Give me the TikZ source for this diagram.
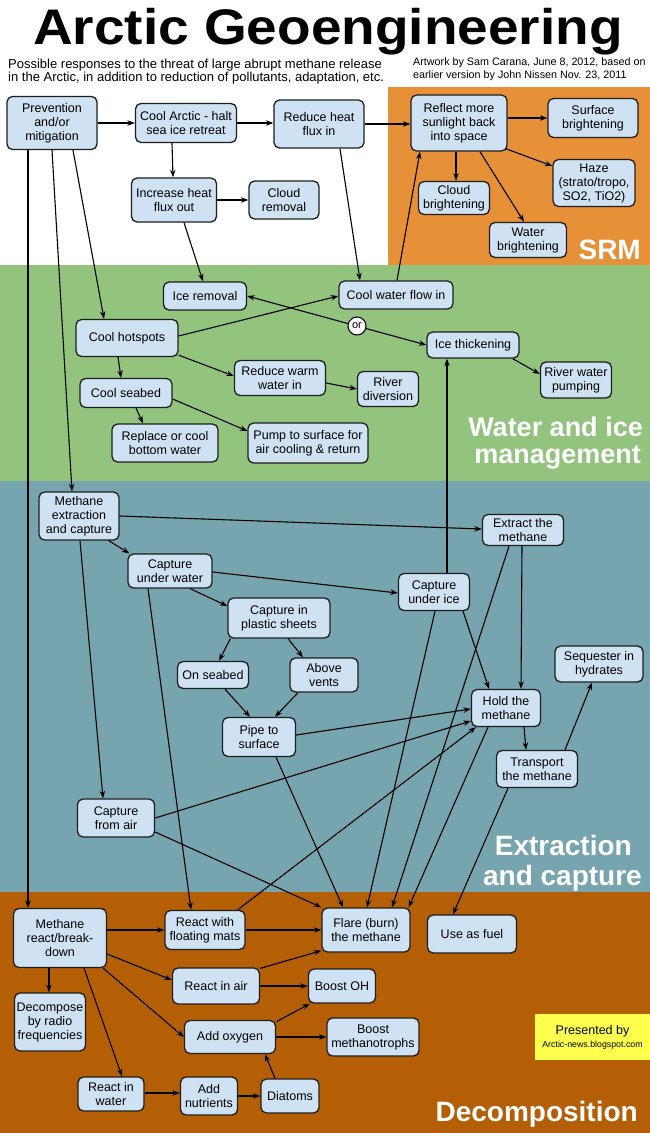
\documentclass[tikz,border=0pt]{standalone}
\usepackage{fontspec}
\setmainfont{Liberation Sans}
\usetikzlibrary{arrows.meta,calc}
\definecolor{srmc}{HTML}{E69138}
\definecolor{wimc}{HTML}{93C47D}
\definecolor{extc}{HTML}{76A5AF}
\definecolor{decc}{HTML}{B45F06}
\definecolor{boxc}{HTML}{CFE2F3}
\definecolor{edgec}{HTML}{1E1E1E}
\definecolor{presc}{HTML}{FFFF4D}
\newcommand{\mybox}[5]{\node[box,minimum width=#3pt,minimum height=#4pt] (#1) at #2 {#5};}
\begin{document}
\begin{tikzpicture}[x=1pt,y=-1pt,
  box/.style={draw=edgec, fill=boxc, rounded corners=5.5pt, line width=1.3pt, align=center, inner sep=0pt, font=\fontsize{12.5}{14}\selectfont, text=black},
  arr/.style={draw=black, line width=1.1pt, -{Stealth[length=7.5pt,width=5.5pt]}},
  sect/.style={text=white, font=\bfseries\fontsize{28}{30}\selectfont, inner sep=0pt}]
\useasboundingbox (0,0) rectangle (650,1133);
% backgrounds
\fill[white] (0,0) rectangle (650,1133);
\fill[srmc] (388,87) rectangle (650,265);
\fill[wimc] (0,265) rectangle (650,481);
\fill[extc] (0,481) rectangle (650,892);
\fill[decc] (0,892) rectangle (650,1133);
% title and credits
\node[anchor=base, inner sep=0pt, font=\bfseries\fontsize{50}{54}\selectfont] (title) at (328,44) {\scalebox{1.1}[1]{Arctic Geoengineering}};
\node[anchor=base west, inner sep=0pt, font=\fontsize{13}{14}\selectfont] (sub1) at (8,68) {Possible responses to the threat of large abrupt methane release};
\node[anchor=base west, inner sep=0pt, font=\fontsize{13}{14}\selectfont] (sub2) at (8,81) {in the Arctic, in addition to reduction of pollutants, adaptation, etc.};
\node[anchor=base west, inner sep=0pt, font=\fontsize{10.75}{12}\selectfont] (cred1) at (413,65) {Artwork by Sam Carana, June 8, 2012, based on};
\node[anchor=base west, inner sep=0pt, font=\fontsize{10.75}{12}\selectfont] (cred2) at (413,78) {earlier version by John Nissen Nov. 23, 2011};
% section labels
\node[sect, anchor=base east] (lsrm) at (641,259) {SRM};
\node[sect, anchor=base east, font=\bfseries\fontsize{27}{30}\selectfont] (lwim1) at (643,436) {Water and ice};
\node[sect, anchor=base east, font=\bfseries\fontsize{27}{30}\selectfont] (lwim2) at (641,463) {management};
\node[sect, anchor=base east] (lext1) at (632,855) {Extraction};
\node[sect, anchor=base east] (lext2) at (642,885) {and capture};
\node[sect, anchor=base east] (ldec) at (638,1121) {Decomposition};
% nodes: top
\mybox{prev}{(52,123)}{90}{53}{Prevention\\and/or\\mitigation}
\mybox{coolarc}{(186,123)}{101}{39}{Cool Arctic - halt\\sea ice retreat}
\mybox{redin}{(319,124)}{90}{48}{Reduce heat\\flux in}
\mybox{incout}{(174,200)}{85}{44}{Increase heat\\flux out}
\mybox{cloudrem}{(284,200)}{70}{38}{Cloud\\removal}
\mybox{reflect}{(459,123)}{96}{56}{Reflect more\\sunlight back\\into space}
\mybox{surf}{(593,118)}{90}{39}{Surface\\brightening}
\mybox{haze}{(594,183)}{82}{47}{Haze\\(strato/tropo,\\SO2, TiO2)}
\mybox{cloudbr}{(454,198)}{71}{33}{Cloud\\brightening}
\mybox{waterbr}{(528,240)}{77}{35}{Water\\brightening}
% water and ice
\mybox{icerem}{(205,296)}{83}{28}{Ice removal}
\mybox{coolflow}{(396,295)}{114}{28}{Cool water flow in}
\mybox{hot}{(127,338)}{102}{37}{Cool hotspots}
\mybox{icethick}{(473,345)}{92}{26}{Ice thickening}
\mybox{warm}{(280,378)}{91}{35}{Reduce warm\\water in}
\mybox{river}{(388,389)}{61}{35}{River\\diversion}
\mybox{pumping}{(576,380)}{71}{36}{River water\\pumping}
\mybox{seabed}{(126,393)}{92}{29}{Cool seabed}
\mybox{replace}{(165,443)}{106}{38}{Replace or cool\\bottom water}
\mybox{pump}{(308,443)}{120}{40}{Pump to surface for\\air cooling \& return}
% extraction
\mybox{mext}{(79,516)}{80}{48}{Methane\\extraction\\and capture}
\mybox{cuw}{(170,571)}{84}{34}{Capture\\under water}
\mybox{plastic}{(279,618)}{102}{40}{Capture in\\plastic sheets}
\mybox{onsea}{(213,675)}{71}{27}{On seabed}
\mybox{vents}{(324,675)}{68}{34}{Above\\vents}
\mybox{extract}{(523,530)}{81}{31}{Extract the\\methane}
\mybox{cui}{(434,592)}{71}{37}{Capture\\under ice}
\mybox{seq}{(599,664)}{88}{36}{Sequester in\\hydrates}
\mybox{hold}{(506,708)}{69}{37}{Hold the\\methane}
\mybox{transport}{(537,769)}{81}{37}{Transport\\the methane}
\mybox{pipe}{(259,737)}{73}{39}{Pipe to\\surface}
\mybox{air}{(116,818)}{77}{38}{Capture\\from air}
% decomposition
\mybox{mreact}{(60,938)}{93}{59}{Methane\\react/break-\\down}
\mybox{mats}{(205,930)}{80}{39}{React with\\floating mats}
\mybox{flare}{(366,930)}{88}{44}{Flare (burn)\\the methane}
\mybox{fuel}{(472,934)}{89}{38}{Use as fuel}
\mybox{reair}{(216,986)}{87}{36}{React in air}
\mybox{oh}{(342,986)}{67}{34}{Boost OH}
\mybox{decomp}{(50,1022)}{71}{58}{Decompose\\by radio\\frequencies}
\mybox{oxy}{(230,1037)}{91}{33}{Add oxygen}
\mybox{methano}{(373,1037)}{92}{38}{Boost\\methanotrophs}
\mybox{rwater}{(111,1094)}{66}{34}{React in\\water}
\mybox{nutr}{(209,1096)}{57}{38}{Add\\nutrients}
\mybox{diatoms}{(290,1096)}{58}{34}{Diatoms}
\node[fill=presc, minimum width=115pt, minimum height=46pt, inner sep=0pt, align=center] (presented) at (592.5,1037) {\fontsize{12.5}{14}\selectfont Presented by\\[1pt]\fontsize{8.8}{10}\selectfont Arctic-news.blogspot.com};
% connectors top
\draw[arr] ($(prev.south)+(-24,0)$) -- ($(mreact.north)+(-32,0)$);
\draw[arr] (prev.south) -- ($(mext.north)+(-7,0)$);
\draw[arr] ($(prev.south)+(21,0)$) -- ($(hot.north)+(-23,0)$);
\draw[arr] (prev.east) -- (coolarc.west);
\draw[arr] (coolarc.east) -- (coolarc.east -| redin.west);
\draw[arr] (redin.east) -- (redin.east -| reflect.west);
\draw[arr] ($(coolarc.south)+(-14,0)$) -- ($(incout.north)+(-1,0)$);
\draw[arr] (incout.east) -- (cloudrem.west);
\draw[arr] ($(incout.south)+(10,0)$) -- ($(icerem.north)+(-2,0)$);
\draw[arr] ($(redin.south)+(21,0)$) -- ($(coolflow.north)+(-36,0)$);
\draw[arr] ($(coolflow.north)+(1,0)$) -- ($(reflect.south)+(-39,0)$);
\draw[arr] ($(reflect.east)+(0,-5)$) -- (surf.west);
\draw[arr] ($(reflect.south east)+(-2,-3)$) -- ($(haze.west)+(0,-17)$);
\draw[arr] ($(reflect.south)+(-3,0)$) -- ($(cloudbr.north)+(2,0)$);
\draw[arr] ($(reflect.south)+(21,0)$) -- ($(waterbr.north)+(-4,0)$);
% water and ice connectors
\draw[arr] ($(hot.east)+(0,-2)$) -- ($(coolflow.west)+(0,1)$);
\draw[line width=1.1pt, {Stealth[length=7.5pt,width=5.5pt]}-{Stealth[length=7.5pt,width=5.5pt]}] (icerem.east) -- (icethick.west);
\node[circle, draw=black, fill=white, line width=1.1pt, inner sep=0pt, minimum size=18pt, font=\fontsize{11}{12}\selectfont] (orc) at (357,326) {or};
\draw[arr] ($(hot.south east)+(0,-2)$) -- ($(warm.west)+(0,-2)$);
\draw[arr] ($(warm.east)+(0,5)$) -- (river.west);
\draw[arr] ($(icethick.south east)+(-7,0)$) -- ($(pumping.west)+(0,-6)$);
\draw[arr] ($(hot.south)+(-9,0)$) -- ($(seabed.north)+(-5,0)$);
\draw[arr] ($(seabed.south)+(10,0)$) -- ($(replace.north)+(-22,0)$);
\draw[arr] ($(seabed.east)+(0,6)$) -- ($(pump.west)+(0,-12)$);
\draw[arr] ($(cui.north)+(13,0)$) -- ($(icethick.south)+(-26,0)$);
% extraction connectors
\draw[arr] (mext.east) -- ($(extract.west)+(0,-1)$);
\draw[arr] ($(mext.south east)+(-11,0)$) -- ($(cuw.north west)+(2,0)$);
\draw[arr] ($(mext.south)+(1,0)$) -- ($(air.north)+(-13,0)$);
\draw[arr] ($(cuw.east)+(0,1)$) -- ($(cui.west)+(0,1)$);
\draw[arr] ($(cuw.south)+(20,0)$) -- ($(plastic.west)+(0,-12)$);
\draw[arr] ($(cuw.south)+(-22,0)$) -- ($(mats.north)+(-14,0)$);
\draw[arr] ($(plastic.south west)+(3,0)$) -- ($(onsea.north)+(6,0)$);
\draw[arr] ($(plastic.south)+(9,0)$) -- ($(vents.north)+(-21,0)$);
\draw[arr] ($(onsea.south)+(12,0)$) -- ($(pipe.north)+(-9,0)$);
\draw[arr] ($(vents.south)+(-26,0)$) -- ($(pipe.north)+(16,0)$);
\draw[arr] ($(pipe.east)+(0,-2)$) -- ($(hold.west)+(0,1)$);
\draw[arr] (air.east) -- ($(hold.west)+(0,13)$);
\draw[arr] ($(mats.north east)+(-8,0)$) -- ($(hold.south west)+(5,0)$);
\draw[arr] ($(extract.south)+(-1,0)$) -- ($(hold.north)+(15,0)$);
\draw[arr] ($(extract.south)+(-14,0)$) -- ($(flare.north)+(26,0)$);
\draw[arr] ($(cui.south)+(29,0)$) -- ($(hold.north)+(-17,0)$);
\draw[arr] ($(cui.south)+(1,0)$) -- ($(flare.north)+(1,0)$);
\draw[arr] ($(hold.south)+(18,0)$) -- ($(transport.north)+(-11,0)$);
\draw[arr] ($(hold.south)+(-18,0)$) -- ($(flare.north east)+(-2,0)$);
\draw[arr] ($(transport.south)+(-29,0)$) -- ($(fuel.north)+(-19,0)$);
\draw[arr] ($(transport.north)+(28,0)$) -- ($(seq.south)+(-7,0)$);
\draw[arr] ($(pipe.south)+(17,0)$) -- ($(flare.north)+(-23,0)$);
\draw[arr] ($(air.east)+(0,14)$) -- (flare.north west);
% decomposition connectors
\draw[arr] ($(mreact.east)+(0,-8)$) -- (mats.west);
\draw[arr] (mats.east) -- (flare.west);
\draw[arr] ($(mreact.east)+(0,16)$) -- ($(reair.west)+(0,-6)$);
\draw[arr] ($(reair.north east)+(0,1)$) -- ($(flare.south west)+(0,-2)$);
\draw[arr] (reair.east) -- (oh.west);
\draw[arr] ($(mreact.south east)+(-4,0)$) -- (oxy.west);
\draw[arr] ($(mreact.south)+(-11,0)$) -- ($(decomp.north)+(-1,0)$);
\draw[arr] ($(mreact.south)+(24,0)$) -- ($(rwater.north)+(11,0)$);
\draw[arr] ($(oxy.north east)+(0,2)$) -- ($(oh.south west)+(2,0)$);
\draw[arr] (oxy.east) -- (methano.west);
\draw[arr] ($(rwater.east)+(0,-1)$) -- ($(nutr.west)+(0,-3)$);
\draw[arr] (nutr.east) -- (diatoms.west);
\draw[arr] ($(diatoms.north)+(-15,0)$) -- ($(oxy.south)+(35,0)$);
\end{tikzpicture}
\end{document}
